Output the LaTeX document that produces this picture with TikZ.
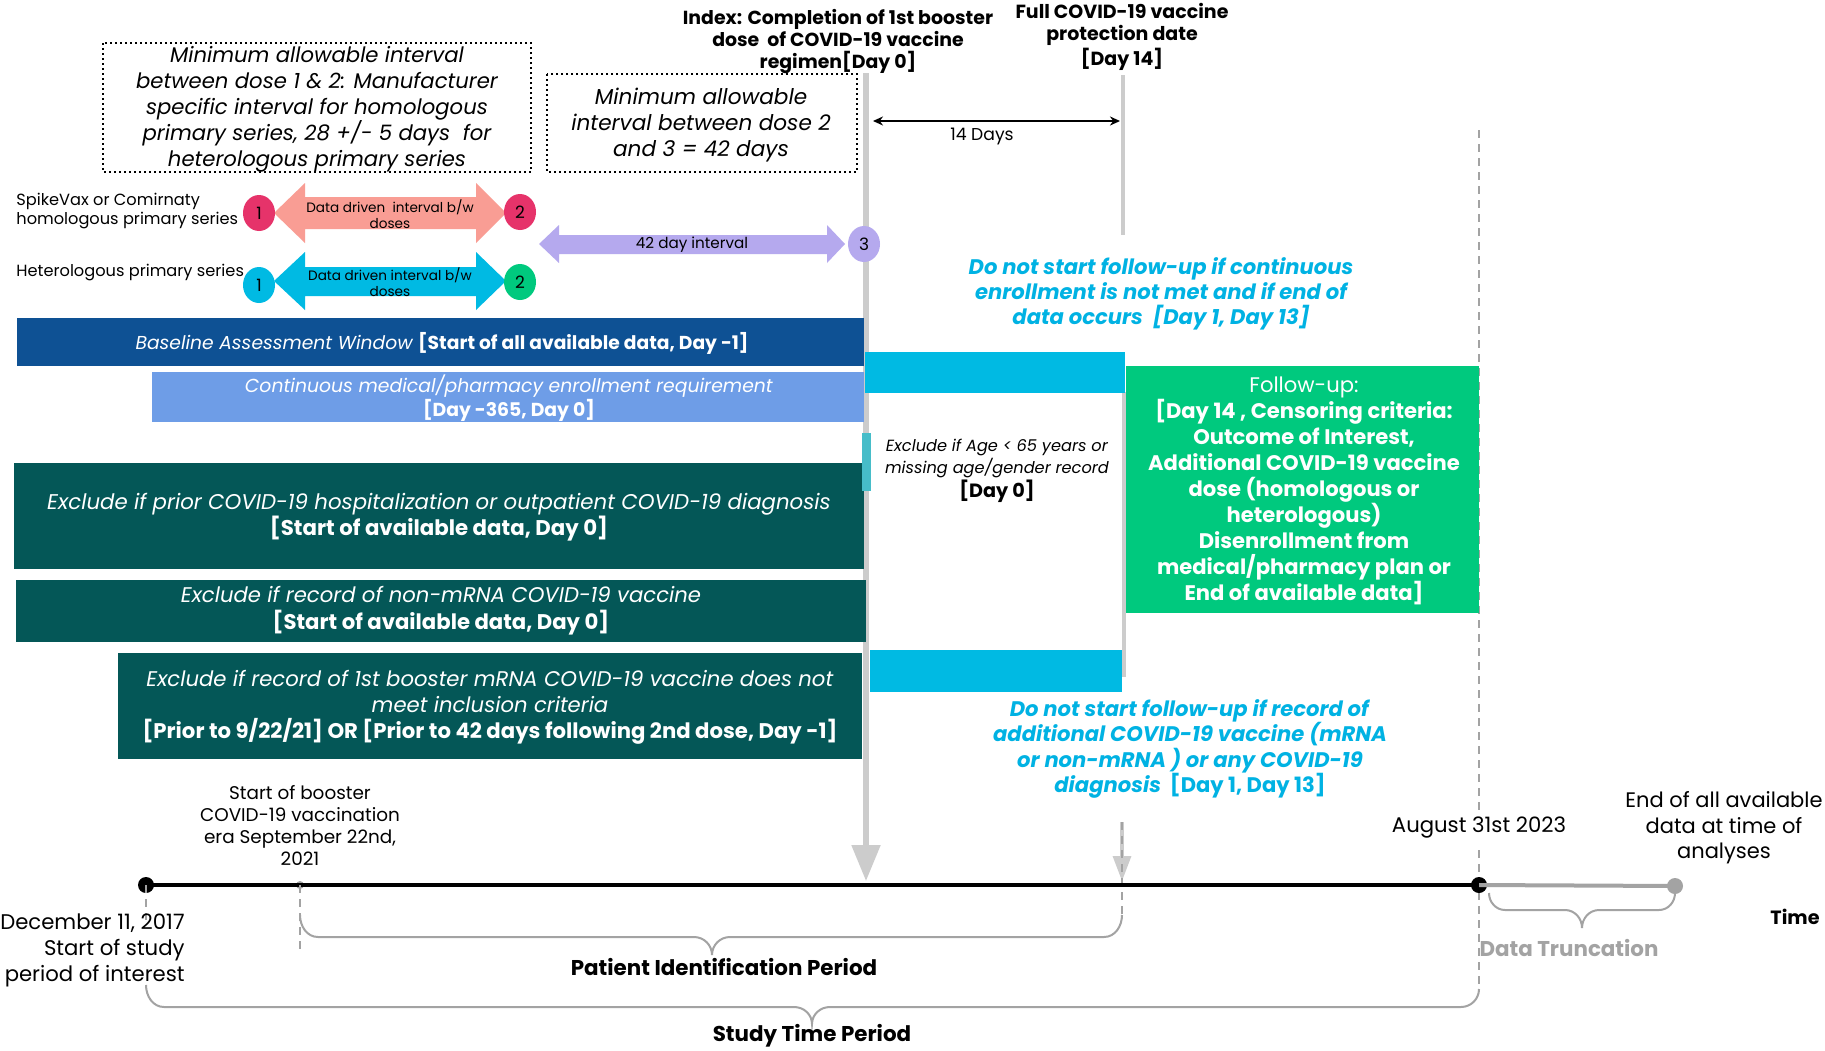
\documentclass[tikz,border=0pt]{standalone}
\usepackage{fontspec}
\setmainfont{Poppins}
\usetikzlibrary{arrows.meta,shapes.geometric}
\definecolor{salmon}{HTML}{F99D94}
\definecolor{crim}{HTML}{E6336A}
\definecolor{cyn}{HTML}{00BAE3}
\definecolor{grn}{HTML}{00C97E}
\definecolor{lav}{HTML}{B5A9EE}
\definecolor{dblue}{HTML}{0E5194}
\definecolor{lblue}{HTML}{6E9DE7}
\definecolor{dteal}{HTML}{045757}
\definecolor{tealtwo}{HTML}{46BDC9}
\definecolor{cyntxt}{HTML}{00B2E3}
\definecolor{lgray}{HTML}{CCCCCC}
\definecolor{mgray}{HTML}{A3A3A3}
\newcommand\myfs[2]{\fontsize{#1}{#2}\selectfont}
\tikzset{
  lbl/.style={inner sep=0pt, align=center, text=black},
  wlbl/.style={inner sep=0pt, align=center, text=white},
  dotbox/.style={draw=black, line width=0.9pt, dash pattern=on 0.9pt off 1.6pt},
  circn/.style={ellipse, inner sep=0pt, minimum width=16pt, minimum height=18pt, font=\myfs{8.5}{10}},
  brace/.style={draw=mgray, line width=1pt},
  gdash/.style={draw=mgray, line width=0.9pt, dash pattern=on 4pt off 3pt},
}
\begin{document}
\begin{tikzpicture}[x=0.5pt,y=-0.5pt]
\useasboundingbox (0,0) rectangle (1825,1050);
\fill[white] (0,0) rectangle (1825,1050);

% ---- vertical reference lines
\coordinate (idxtop) at (866,73);
\coordinate (idxtip) at (866,881);
\draw[lgray, line width=2.6pt, -{Triangle[width=14pt,length=18pt]}] (idxtop) -- (idxtip);
\coordinate (fulltop) at (1123,75);
\coordinate (fullmid) at (1123,235);
\draw[lgray, line width=2pt] (fulltop) -- (fullmid);
\coordinate (fulla) at (1124,392);
\coordinate (fullb) at (1124,677);
\draw[lgray, line width=2pt] (fulla) -- (fullb);
\coordinate (fullc) at (1122,822);
\coordinate (fulltip) at (1122,881);
\draw[lgray, line width=1.6pt, -{Triangle[width=9pt,length=12.5pt]}] (fullc) -- (fulltip);
\coordinate (fulld) at (1122,915);
\draw[gdash] (fullc) -- (fulld);
\coordinate (endtop) at (1479,130);
\coordinate (endmid) at (1479,812);
\draw[gdash] (endtop) -- (endmid);
\coordinate (endlow) at (1479,850);
\coordinate (endbot) at (1479,990);
\draw[gdash] (endlow) -- (endbot);

% ---- top labels
\node[lbl, font=\bfseries\myfs{9.45}{11}] (idx) at (838,42) {Index: Completion of 1st booster\\dose \ of COVID-19 vaccine\\regimen[Day 0]};
\node[lbl, font=\bfseries\myfs{9.5}{11}] (full) at (1122,37) {Full COVID-19 vaccine\\protection date\\{}[Day 14]};

% ---- dotted boxes
\draw[dotbox] (103,43) rectangle (531,172);
\node[lbl, font=\itshape\myfs{10.6}{13}] (mindose12) at (317,109) {Minimum allowable interval\\between dose 1 \& 2: Manufacturer\\specific interval for homologous\\primary series, 28 +/- 5 days \ for\\heterologous primary series};
\draw[dotbox] (547,74) rectangle (857,172);
\node[lbl, font=\itshape\myfs{10.8}{13}] (mindose23) at (701,125) {Minimum allowable\\interval between dose 2\\and 3 = 42 days};

% ---- 14 days
\coordinate (d14a) at (873,121);
\coordinate (d14b) at (1120,121);
\draw[black, line width=0.9pt, {Stealth[length=5pt,width=4.5pt]}-{Stealth[length=5pt,width=4.5pt]}] (d14a) -- (d14b);
\node[lbl, font=\myfs{8.6}{10}] (days14) at (982,136) {14 Days};

% ---- dose rows
\node[lbl, anchor=west, align=left, font=\myfs{8.1}{9.4}] (spike) at (16,211) {SpikeVax or Comirnaty\\homologous primary series};
\node[lbl, anchor=west, align=left, font=\myfs{8.1}{9.4}] (hetero) at (16,273) {Heterologous primary series};

\fill[salmon] (274,213) -- (305,183) -- (305,197) -- (476,197) -- (476,183) -- (506,213) -- (476,243) -- (476,229) -- (305,229) -- (305,243) -- cycle;
\node[lbl, font=\myfs{6.8}{8}] (ddi1) at (390,214) {Data driven \ interval b/w\\doses};
\fill[cyn] (274,281) -- (305,252) -- (305,267) -- (476,267) -- (476,252) -- (506,281) -- (476,310) -- (476,296) -- (305,296) -- (305,310) -- cycle;
\node[lbl, font=\myfs{6.8}{8}] (ddi2) at (390,282) {Data driven interval b/w\\doses};
\fill[lav] (539,244) -- (559,225) -- (559,235) -- (827,235) -- (827,225) -- (845,244) -- (827,263) -- (827,254) -- (559,254) -- (559,263) -- cycle;
\node[lbl, font=\myfs{7.6}{9}] (d42) at (692,245) {42 day interval};

\node[circn, fill=crim] (r1) at (259,213) {1};
\node[circn, fill=crim] (r2) at (520,212) {2};
\node[circn, fill=cyn] (c1) at (259,285) {1};
\node[circn, fill=grn] (g2) at (520,282) {2};
\node[circn, fill=lav] (p3) at (864,244) {3};

% ---- left bars
\fill[dblue] (17,318) rectangle (864,366);
\node[wlbl, font=\myfs{9.35}{11}] (baseline) at (442,343) {\textit{Baseline Assessment Window} \textbf{[Start of all available data, Day -1]}};
\fill[lblue] (152,372) rectangle (864,422);
\node[wlbl, font=\myfs{9.4}{10.6}] (contenr) at (509,398) {\textit{Continuous medical/pharmacy enrollment requirement}\\\textbf{[Day -365, Day 0]}};
\fill[dteal] (14,463) rectangle (864,569);
\node[wlbl, font=\myfs{10.65}{13}] (exclA) at (439,517) {\textit{Exclude if prior COVID-19 hospitalization or outpatient COVID-19 diagnosis}\\\textbf{[Start of available data, Day 0]}};
\fill[dteal] (16,580) rectangle (866,642);
\node[wlbl, font=\myfs{10.6}{13.5}] (exclB) at (441,611) {\textit{Exclude if record of non-mRNA COVID-19 vaccine}\\\textbf{[Start of available data, Day 0]}};
\fill[dteal] (118,653) rectangle (862,759);
\node[wlbl, font=\myfs{10.6}{13}] (exclC) at (490,707) {\textit{Exclude if record of 1st booster mRNA COVID-19 vaccine does not}\\\textit{meet inclusion criteria}\\\textbf{[Prior to 9/22/21] OR [Prior to 42 days following 2nd dose, Day -1]}};

% ---- middle column
\fill[cyn] (865,352) rectangle (1125,393);
\fill[tealtwo] (862,433) rectangle (871,491);
\node[lbl, font=\myfs{8.1}{9.6}] (age) at (997,471) {\textit{Exclude if Age < 65 years or}\\\textit{missing age/gender record}\\\textbf{\myfs{9.6}{10.5}[Day 0]}};
\fill[cyn] (870,650) rectangle (1122,692);
\node[lbl, text=cyntxt, font=\bfseries\itshape\myfs{10.55}{12.6}] (dnsA) at (1161,294) {Do not start follow-up if continuous\\enrollment is not met and if end of\\data occurs \ [Day 1, Day 13]};
\node[lbl, text=cyntxt, font=\bfseries\myfs{10.55}{12.7}] (dnsB) at (1190,749) {\textit{Do not start follow-up if record of}\\\textit{additional COVID-19 vaccine (mRNA}\\\textit{or non-mRNA ) or any COVID-19}\\\textit{diagnosis} \ [Day 1, Day 13]};

% ---- follow-up box
\fill[grn] (1126,366) rectangle (1479,613);
\node[wlbl, font=\bfseries\myfs{10.55}{13}] (follow) at (1304,491) {\mdseries Follow-up:\\{}[Day 14 , Censoring criteria:\\Outcome of Interest,\\Additional COVID-19 vaccine\\dose (homologous or\\heterologous)\\Disenrollment from\\medical/pharmacy plan or\\End of available data]};

% ---- timeline
\node[circle, fill=black, inner sep=0pt, minimum size=8pt] (tstart) at (146,885) {};
\node[circle, fill=mgray, inner sep=0pt, minimum size=4pt] (tboost) at (300,885) {};
\node[circle, fill=black, inner sep=0pt, minimum size=8pt] (tend) at (1479,885) {};
\node[circle, fill=mgray, inner sep=0pt, minimum size=8pt] (tdata) at (1675,886) {};
\draw[mgray, line width=2pt] (tend.center) -- (tdata.center);
\draw[black, line width=2pt] (tstart.center) -- (tend.center);

\coordinate (sdash) at (146,920);
\draw[gdash] (tstart.center) -- (sdash);
\coordinate (bdash) at (300,950);
\draw[gdash] (tboost.center) -- (bdash);

% ---- braces
\draw[brace] (300,915) to[out=-90,in=180] (318,937) -- (694,937) to[out=0,in=90] (712,955) to[out=90,in=180] (730,937) -- (1104,937) to[out=0,in=-90] (1122,915);
\draw[brace] (146,985) to[out=-90,in=180] (164,1007) -- (794,1007) to[out=0,in=90] (812,1024) to[out=90,in=180] (830,1007) -- (1461,1007) to[out=0,in=-90] (1479,989);
\draw[brace] (1489,893) to[out=-90,in=180] (1505,910) -- (1565,910) to[out=0,in=90] (1582,928) to[out=90,in=180] (1599,910) -- (1659,910) to[out=0,in=-90] (1675,893);

% ---- timeline labels
\node[lbl, font=\myfs{9.2}{11}] (boostlbl) at (300,825) {Start of booster\\COVID-19 vaccination\\era September 22nd,\\2021};
\node[lbl, anchor=east, align=right, font=\myfs{10.6}{13}] (declbl) at (185,950) {December 11, 2017\\Start of study\\period of interest};
\node[lbl, font=\myfs{10.6}{12}] (auglbl) at (1479,828) {August 31st 2023};
\node[lbl, font=\myfs{10.5}{12.8}] (endlbl) at (1724,828) {End of all available\\data at time of\\analyses};
\node[lbl, font=\bfseries\myfs{9.6}{11}] (timelbl) at (1795,917) {Time};
\node[lbl, text=mgray, font=\bfseries\myfs{10.7}{12}] (trunc) at (1569,948) {Data Truncation};
\node[lbl, font=\bfseries\myfs{10.7}{12}] (pip) at (724,967) {Patient Identification Period};
\node[lbl, font=\bfseries\myfs{10.7}{12}] (stp) at (812,1036) {Study Time Period};
\end{tikzpicture}
\end{document}
